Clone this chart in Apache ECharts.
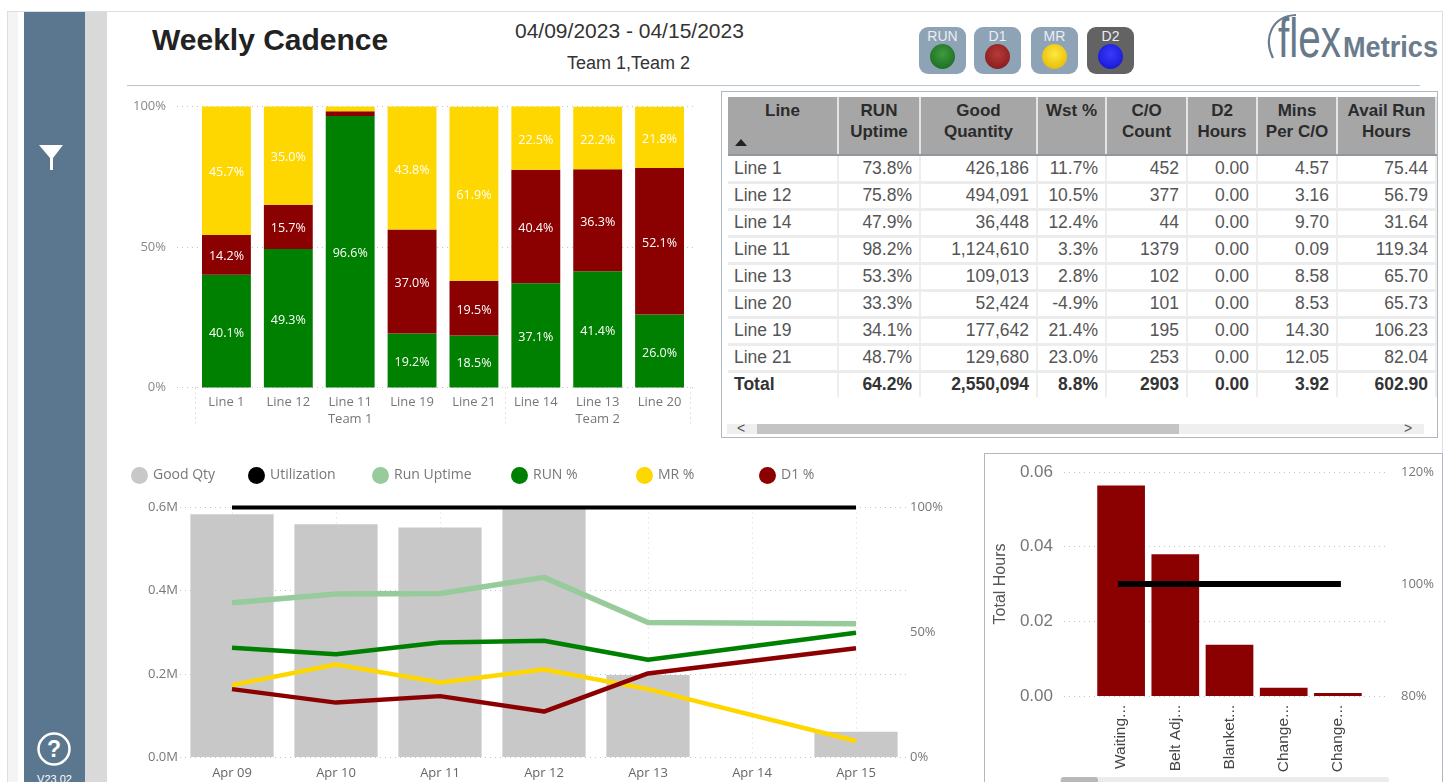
<!DOCTYPE html>
<html>
<head>
<meta charset="utf-8">
<title>Weekly Cadence</title>
<script src="https://cdn.jsdelivr.net/npm/echarts@6/dist/echarts.min.js"></script>
<style>
html,body{margin:0;padding:0;background:#fff;overflow:hidden;}
#page{position:relative;width:1451px;height:782px;overflow:hidden;font-family:"Liberation Sans",Arial,sans-serif;color:#333;}
.abs{position:absolute;}
#frame{left:7px;top:11px;width:1436px;height:780px;border:1px solid #d8dfe6;box-sizing:border-box;}
#strip{left:8px;top:12px;width:10px;height:770px;background:#f4f4f4;}
#side{left:24px;top:12px;width:61px;height:770px;background:#5b778f;}
#side2{left:85px;top:12px;width:22px;height:770px;background:#d9d9d9;}
#version{left:24px;top:773px;width:61px;text-align:center;color:#fff;font-size:11px;line-height:13px;}
#title{left:152px;top:21px;font-size:30px;font-weight:bold;line-height:38px;color:#222;white-space:nowrap;}
#dates{left:515px;top:19px;font-size:21px;line-height:24px;white-space:nowrap;}
#teams{left:567px;top:53px;font-size:18px;line-height:20px;white-space:nowrap;}
#rule{left:127px;top:85px;width:1293px;height:1px;background:#b8c2cb;}
.tile{position:absolute;top:27px;width:47px;height:47px;border-radius:9px;background:#8ea3b6;color:#e9eef3;font-size:14px;line-height:18px;text-align:center;}
.tile i{position:absolute;left:11px;top:17px;width:25px;height:25px;border-radius:50%;}
#tableBox{left:721px;top:91px;width:717px;height:347px;border:1px solid #aeb8c2;box-sizing:border-box;}
#tbl{position:absolute;left:6px;top:5px;border-collapse:collapse;table-layout:fixed;width:708px;font-size:17.5px;color:#555;}
#tbl th{background:#a6a6a6;color:#2b2b2b;font-size:17px;font-weight:bold;line-height:21px;height:58px;padding:3px 0 0;vertical-align:top;text-align:center;border-right:2px solid #e4e4e4;border-bottom:2px solid #8f979f;box-sizing:border-box;}
#tbl td{height:27px;padding:0 7px 0 0;text-align:right;white-space:nowrap;border-right:2px solid #eeeeee;border-bottom:3px solid #ececec;box-sizing:border-box;}
#tbl td:first-child{text-align:left;padding:0 0 0 6px;}
#tbl tr.total td{font-weight:bold;color:#333;border-bottom:none;height:26px;border-top:2px solid #a5b0bb;}
#sortArrow{position:absolute;left:13px;top:47px;width:0;height:0;border-left:6px solid transparent;border-right:6px solid transparent;border-bottom:7px solid #222;}
#scrollTrack{left:727px;top:424px;width:697px;height:10px;background:#efefef;}
#scrollThumb{left:757px;top:424px;width:422px;height:10px;background:#c4c4c4;}
.arrow{position:absolute;top:420px;font-size:14px;line-height:16px;color:#555;}
#paretoBox{left:984px;top:453px;width:459px;height:340px;border:1px solid #aeb8c2;box-sizing:border-box;}
#barScrollTrack{left:1060px;top:777px;width:329px;height:8px;background:#ececec;border-radius:3px;}
#barScrollThumb{left:1061px;top:777px;width:37px;height:8px;background:#b9b9b9;border-radius:3px;}
#show,#show2,#show3{position:absolute;}
#show{left:127px;top:91px;width:590px;height:345px;}
#show2{left:127px;top:455px;width:850px;height:327px;}
#show3{left:985px;top:454px;width:457px;height:328px;}
</style>
</head>
<body>
<div id="page">
    <div class="abs" id="frame"></div>
    <div class="abs" id="strip"></div>
    <div class="abs" id="side"></div>
    <div class="abs" id="side2"></div>
    <svg class="abs" style="left:24px;top:130px" width="61" height="60">
        <path d="M15 15 L39 15 L29 28 L29 40 L26 40 L26 28 Z" fill="#fff"/>
    </svg>
    <svg class="abs" style="left:24px;top:725px" width="61" height="48">
        <circle cx="30" cy="24" r="15.5" fill="none" stroke="#fff" stroke-width="2.5"/>
        <text x="30" y="32" text-anchor="middle" font-size="23" font-weight="bold" fill="#fff" font-family="Liberation Sans">?</text>
    </svg>
    <div class="abs" id="version">V23.02</div>

    <div class="abs" id="title">Weekly Cadence</div>
    <div class="abs" id="dates">04/09/2023 - 04/15/2023</div>
    <div class="abs" id="teams">Team 1,Team 2</div>
    <div class="abs" id="rule"></div>

    <div class="tile" style="left:919px">RUN<i style="background:radial-gradient(circle at 50% 40%,#3f9a3f,#14641c)"></i></div>
    <div class="tile" style="left:974px">D1<i style="background:radial-gradient(circle at 50% 40%,#b83a3a,#7a1616)"></i></div>
    <div class="tile" style="left:1031px">MR<i style="background:radial-gradient(circle at 50% 40%,#ffe93a,#e0b000)"></i></div>
    <div class="tile" style="left:1087px;background:#636363">D2<i style="background:radial-gradient(circle at 50% 40%,#3a3aff,#1010c8)"></i></div>

    <svg class="abs" style="left:1260px;top:8px" width="185" height="60">
        <path d="M13 50 C3 30 12 8 36 7" fill="none" stroke="#6b7d8d" stroke-width="2.2"/>
        <text x="18" y="49" font-size="56" fill="#66788a" font-family="Liberation Sans" textLength="63" lengthAdjust="spacingAndGlyphs">flex</text>
        <text x="83" y="49" font-size="30" font-weight="bold" fill="#6a7c8e" font-family="Liberation Sans" textLength="95" lengthAdjust="spacingAndGlyphs">Metrics</text>
    </svg>

    <div class="abs" id="tableBox"><table id="tbl"></table><div id="sortArrow"></div></div>
    <div class="abs" id="scrollTrack"></div>
    <div class="abs" id="scrollThumb"></div>
    <div class="arrow" style="left:737px">&lt;</div>
    <div class="arrow" style="left:1404px">&gt;</div>

    <div class="abs" id="paretoBox"></div>
    <div id="show"></div>
    <div id="show2"></div>
    <div id="show3"></div>
    <div class="abs" id="barScrollTrack"></div>
    <div class="abs" id="barScrollThumb"></div>
</div>
<script>
// stacked bars
var lineCats = ['Line 1', 'Line 12', 'Line 11\nTeam 1', 'Line 19', 'Line 21', 'Line 14', 'Line 13\nTeam 2', 'Line 20'];
var runPct = [40.1, 49.3, 96.6, 19.2, 18.5, 37.1, 41.4, 26.0];
var d1Pct = [14.2, 15.7, 1.7, 37.0, 19.5, 40.4, 36.3, 52.1];
var mrPct = [45.7, 35.0, 1.7, 43.8, 61.9, 22.5, 22.2, 21.8];
var teamBreaks = [0, 5, 8];

// table
var tableHead = ['Line', 'RUN<br>Uptime', 'Good<br>Quantity', 'Wst %', 'C/O<br>Count', 'D2<br>Hours', 'Mins<br>Per C/O', 'Avail Run<br>Hours'];
var tableWidths = [110, 82, 117, 69, 81, 70, 80, 99];
var tableLine = ['Line 1', 'Line 12', 'Line 14', 'Line 11', 'Line 13', 'Line 20', 'Line 19', 'Line 21', 'Total'];
var tableUptime = ['73.8%', '75.8%', '47.9%', '98.2%', '53.3%', '33.3%', '34.1%', '48.7%', '64.2%'];
var tableGood = ['426,186', '494,091', '36,448', '1,124,610', '109,013', '52,424', '177,642', '129,680', '2,550,094'];
var tableWst = ['11.7%', '10.5%', '12.4%', '3.3%', '2.8%', '-4.9%', '21.4%', '23.0%', '8.8%'];
var tableCount = ['452', '377', '44', '1379', '102', '101', '195', '253', '2903'];
var tableD2 = ['0.00', '0.00', '0.00', '0.00', '0.00', '0.00', '0.00', '0.00', '0.00'];
var tableMins = ['4.57', '3.16', '9.70', '0.09', '8.58', '8.53', '14.30', '12.05', '3.92'];
var tableAvail = ['75.44', '56.79', '31.64', '119.34', '65.70', '65.73', '106.23', '82.04', '602.90'];

// daily combo
var days = ['Apr 09', 'Apr 10', 'Apr 11', 'Apr 12', 'Apr 13', 'Apr 14', 'Apr 15'];
var goodQty = [0.584, 0.560, 0.552, 0.610, 0.197, null, 0.061];
var utilization = [100, 100, 100, 100, 100, null, 100];
var runUptime = [61.8, 65.3, 65.5, 72.0, 53.9, null, 53.4];
var runDaily = [43.8, 41.2, 45.9, 46.6, 39.0, null, 49.8];
var mrDaily = [28.8, 37.1, 29.9, 35.1, 27.2, null, 6.4];
var d1Daily = [27.2, 21.8, 24.4, 18.2, 33.5, null, 43.6];

// pareto
var reasons = ['Waiting...', 'Belt Adj...', 'Blanket...', 'Change...', 'Change...'];
var reasonHours = [0.0564, 0.038, 0.0137, 0.0022, 0.0008];
var reasonPct = [100, 100, 100, 100, 100];

var green = '#008000', red = '#8b0000', yellow = '#ffd700', lightGreen = '#98cb9b', gray = '#c8c8c8';
var labelFont = '"Open Sans", "Liberation Sans", sans-serif';
var dots = {show: true, lineStyle: {type: [1, 4], color: '#c4c4c4', width: 1}};

// table is plain html
var cols = [tableLine, tableUptime, tableGood, tableWst, tableCount, tableD2, tableMins, tableAvail];
var html = '<colgroup>';
tableWidths.forEach(function (w) { html += '<col style="width:' + w + 'px">'; });
html += '</colgroup><tr>';
tableHead.forEach(function (h) { html += '<th>' + h + '</th>'; });
html += '</tr>';
tableLine.forEach(function (name, r) {
    html += name == 'Total' ? '<tr class="total">' : '<tr>';
    cols.forEach(function (c) { html += '<td>' + c[r] + '</td>'; });
    html += '</tr>';
});
document.getElementById('tbl').innerHTML = html;

function pctLabel(p) {
    return p.value >= 5 ? p.value.toFixed(1) + '%' : '';
}
function stackSeries(name, data, color) {
    return {
        name: name, type: 'bar', stack: 'all', data: data,
        xAxisIndex: 1, yAxisIndex: 1, barWidth: '79%',
        itemStyle: {color: color},
        label: {show: true, position: 'inside', offset: [0, 2], color: '#fff', fontSize: 12.5, fontFamily: labelFont, formatter: pctLabel}
    };
}

var myChart = echarts.init(document.getElementById('show'));
var myChart2 = echarts.init(document.getElementById('show2'));
var myChart3 = echarts.init(document.getElementById('show3'));

var option = {
    animation: false,
    // first grid only carries the long dotted lines, second one the bars
    grid: [
        {left: 50, width: 520, top: 15.5, height: 281},
        {left: 68.5, width: 495, top: 15.5, height: 281}
    ],
    xAxis: [
        {gridIndex: 0, type: 'value', min: 0, max: 1, show: false},
        {
            gridIndex: 1, type: 'category', data: lineCats,
            axisLine: {show: false}, axisTick: {show: false},
            axisLabel: {color: '#777', fontSize: 13, lineHeight: 17, margin: 6, fontFamily: labelFont, interval: 0}
        },
        {
            gridIndex: 1, type: 'value', min: 0, max: 8, position: 'bottom',
            axisLine: {show: false}, axisLabel: {show: false}, splitLine: {show: false},
            axisTick: {show: true, customValues: teamBreaks, length: 38, lineStyle: {type: [1, 4], color: '#c4c4c4'}}
        }
    ],
    yAxis: [
        {
            gridIndex: 0, type: 'value', min: 0, max: 100, interval: 50,
            axisLine: {show: false}, axisTick: {show: false}, splitLine: dots,
            axisLabel: {color: '#888', fontSize: 13, margin: 11, padding: [2, 0, 0, 0], fontFamily: labelFont, formatter: '{value}%'}
        },
        {gridIndex: 1, type: 'value', min: 0, max: 100, show: false}
    ],
    series: [
        stackSeries('RUN %', runPct, green),
        stackSeries('D1 %', d1Pct, red),
        stackSeries('MR %', mrPct, yellow)
    ]
};

var legendNames = ['Good Qty', 'Utilization', 'Run Uptime', 'RUN %', 'MR %', 'D1 %'];
var legendLeft = [-1, 116, 240, 379, 504, 627];

function lineSeries(name, data, color, width) {
    return {
        name: name, type: 'line', data: data, yAxisIndex: 1, connectNulls: true,
        symbol: 'none', clip: false, color: color,
        lineStyle: {color: color, width: width}
    };
}

var option2 = {
    animation: false,
    legend: legendNames.map(function (n, i) {
        return {
            data: [n], left: legendLeft[i], top: 7, icon: 'circle', itemWidth: 17, itemHeight: 17,
            textStyle: {color: '#777', fontSize: 14, fontFamily: labelFont}
        };
    }),
    grid: {left: 53, width: 728, top: 52.5, height: 249.5},
    xAxis: {
        type: 'category', data: days,
        axisLine: {show: false}, axisTick: {show: false},
        splitLine: {show: true, alignWithLabel: true, lineStyle: {type: [1, 4], color: '#d8d8d8'}},
        axisLabel: {color: '#666', fontSize: 13, margin: 10, fontFamily: labelFont, interval: 0}
    },
    yAxis: [
        {
            type: 'value', min: 0, max: 0.6, interval: 0.2,
            axisLine: {show: false}, axisTick: {show: false}, splitLine: dots,
            axisLabel: {color: '#777', fontSize: 13, margin: 2, padding: [2, 0, 0, 0], fontFamily: labelFont, formatter: function (v) { return v.toFixed(1) + 'M'; }}
        },
        {
            type: 'value', min: 0, max: 100, interval: 50,
            axisLine: {show: false}, axisTick: {show: false}, splitLine: {show: false},
            axisLabel: {color: '#777', fontSize: 13, margin: 2, padding: [2, 0, 0, 0], fontFamily: labelFont, formatter: '{value}%'}
        }
    ],
    series: [
        {name: 'Good Qty', type: 'bar', data: goodQty, color: gray, barWidth: '80%', itemStyle: {color: gray}},
        lineSeries('Utilization', utilization, '#000', 4),
        lineSeries('Run Uptime', runUptime, lightGreen, 5.5),
        lineSeries('RUN %', runDaily, green, 4.5),
        lineSeries('MR %', mrDaily, yellow, 4.5),
        lineSeries('D1 %', d1Daily, red, 4.5)
    ]
};

var option3 = {
    animation: false,
    grid: [
        {left: 75, width: 327, top: 18, height: 224},
        {left: 109, width: 271, top: 18, height: 224}
    ],
    xAxis: [
        {gridIndex: 0, type: 'value', min: 0, max: 1, show: false},
        {
            gridIndex: 1, type: 'category', data: reasons,
            axisLine: {show: false}, axisTick: {show: false},
            axisLabel: {color: '#444', fontSize: 15.5, rotate: 90, margin: 9, interval: 0, fontFamily: '"Liberation Sans", Arial, sans-serif'}
        }
    ],
    yAxis: [
        {
            gridIndex: 0, type: 'value', min: 0, max: 0.06, interval: 0.02,
            name: 'Total Hours', nameLocation: 'middle', nameGap: 52, nameRotate: 90,
            nameTextStyle: {color: '#555', fontSize: 16, fontFamily: '"Liberation Sans", Arial, sans-serif'},
            axisLine: {show: false}, axisTick: {show: false}, splitLine: dots,
            axisLabel: {color: '#777', fontSize: 17, margin: 11, fontFamily: '"Liberation Sans", Arial, sans-serif', formatter: function (v) { return v.toFixed(2); }}
        },
        {
            gridIndex: 0, type: 'value', min: 80, max: 120, interval: 20, position: 'right',
            axisLine: {show: false}, axisTick: {show: false}, splitLine: {show: false},
            axisLabel: {color: '#777', fontSize: 13, margin: 14, fontFamily: labelFont, formatter: '{value}%'}
        },
        {gridIndex: 1, type: 'value', min: 0, max: 0.06, show: false},
        {gridIndex: 1, type: 'value', min: 80, max: 120, show: false}
    ],
    series: [
        {type: 'bar', data: reasonHours, xAxisIndex: 1, yAxisIndex: 2, barWidth: '88%', barMinHeight: 3, itemStyle: {color: red}},
        {
            type: 'line', data: reasonPct, xAxisIndex: 1, yAxisIndex: 3, symbol: 'none', z: 5,
            lineStyle: {color: '#000', width: 6, cap: 'square'}
        }
    ]
};

myChart.setOption(option);
myChart2.setOption(option2);
myChart3.setOption(option3);
</script>
</body>
</html>
